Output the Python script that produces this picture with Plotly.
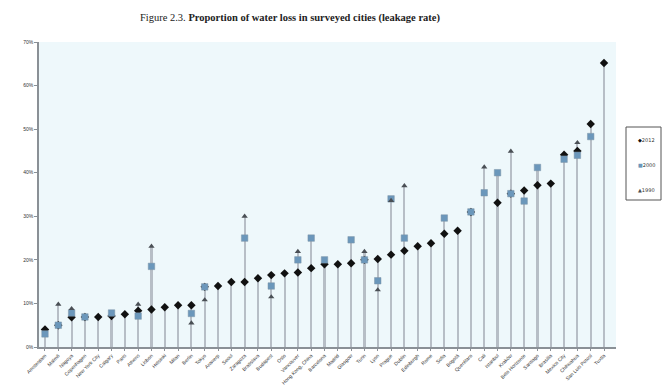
import plotly.graph_objects as go

cities = ["Amsterdam", "Malmö", "Nagoya", "Copenhagen", "New York City", "Calgary", "Paris",
          "Athens", "Lisbon", "Helsinki", "Milan", "Berlin", "Tokyo", "Antwerp", "Seoul",
          "Zaragoza", "Bratislava", "Budapest", "Oslo", "Vancouver", "Hong Kong, China",
          "Barcelona", "Madrid", "Glasgow", "Turin", "Lyon", "Prague", "Dublin", "Edinburgh",
          "Rome", "Sofia", "Bogotá", "Querétaro", "Cali", "Istanbul", "Kraków",
          "Belo Horizonte", "Santiago", "Brasília", "Mexico City", "Chihuahua",
          "San Luis Potosí", "Tuxtla"]

rate_2012 = [4.0, 5.0, 6.8, 6.9, 6.9, 7.1, 7.5, 8.3, 8.6, 9.1, 9.6, 9.6, 13.8, 14.0, 14.9,
             14.9, 15.8, 16.5, 16.9, 17.1, 18.1, 19.0, 19.0, 19.2, 20.0, 20.2, 21.2, 22.1,
             23.1, 23.8, 26.0, 26.7, 31.0, None, 33.1, 35.2, 35.9, 37.1, 37.5, 44.1, 45.0,
             51.2, 65.2]

rate_2000 = [3.0, 5.0, 7.8, 6.9, None, 7.8, None, 7.1, 18.5, None, None, 7.7, 13.8, None,
             None, 25.0, None, 14.0, None, 20.0, 25.0, 20.0, None, 24.6, 20.0, 15.2, 34.0,
             25.0, None, None, 29.6, None, 31.0, 35.4, 40.0, 35.2, 33.5, 41.2, None, 43.1,
             44.0, 48.3, None]

rate_1990 = [None, 9.8, 8.8, None, None, None, None, 9.8, 23.1, None, None, 5.5, 10.8, None,
             None, 30.0, None, 11.5, None, 21.9, None, None, None, None, 21.9, 13.1, 33.6,
             37.0, None, None, None, None, None, 41.3, None, 44.9, None, None, None, None,
             46.9, None, None]

series_names = ["2012", "2000", "1990"]
series_colors = ["#111111", "#6b97bb", "#4a4f55"]
series_symbols = ["diamond", "square", "triangle-up"]
legend_glyphs = ["◆", "■", "▲"]

y_ticks = [0, 10, 20, 30, 40, 50, 60, 70]
y_tick_text = ["0%", "10%", "20%", "30%", "40%", "50%", "60%", "70%"]

stem_top = [max(v for v in vals if v is not None)
            for vals in zip(rate_2012, rate_2000, rate_1990)]

fig = go.Figure()

fig.add_trace(go.Bar(x=cities, y=stem_top, width=0.16, marker_color="#b7bec6",
                     marker_line_width=0, showlegend=False, hoverinfo="skip"))

sizes = [6.5, 6.5, 5.5]
for name, vals, col, sym, sz in zip(series_names, [rate_2012, rate_2000, rate_1990],
                                    series_colors, series_symbols, sizes):
    mk = dict(symbol=sym, size=sz, color=col)
    if sym == "square":
        mk["line"] = dict(color="#7f95a6", width=0.5)
    fig.add_trace(go.Scatter(x=cities, y=vals, mode="markers", name=name,
                             marker=mk, showlegend=False))

# custom legend box (pixel -> paper: x=(px-39)/577, y=(347-py)/305)
fig.add_shape(type="rect", xref="paper", yref="paper",
              x0=(626 - 39) / 577, x1=(661 - 39) / 577,
              y0=(347 - 200) / 305, y1=(347 - 127) / 305,
              line=dict(color="#555555", width=1), fillcolor="white")
for i, (name, col, g) in enumerate(zip(series_names, series_colors, legend_glyphs)):
    py = 140 + i * 25
    fig.add_annotation(xref="paper", yref="paper", x=(636 - 39) / 577,
                       y=(347 - py) / 305, xanchor="left", yanchor="middle",
                       showarrow=False,
                       text=f"<span style='color:{col}'>{g}</span>{name}",
                       font=dict(size=5, family="DejaVu Sans", color="#333333"))

fig.update_layout(
    width=662, height=388,
    margin=dict(l=39, r=46, t=42, b=41, autoexpand=False),
    paper_bgcolor="white",
    plot_bgcolor="#eef8fb",
    title=dict(text="Figure 2.3. <b>Proportion of water loss in surveyed cities (leakage rate)</b>",
               x=0.438, xanchor="center", y=0.955, yanchor="middle",
               font=dict(family="Liberation Serif", size=10.5, color="#222222")),
    font=dict(family="Liberation Sans", color="#333333"),
    showlegend=False,
    bargap=0,
)

fig.update_xaxes(type="category", range=[-0.45, 42.9], tickangle=-45,
                 tickfont=dict(size=5, color="#333333"),
                 showgrid=False, showline=True, linecolor="#8a9096", linewidth=1.5,
                 ticks="outside", ticklen=2, tickcolor="#8a9096", zeroline=False)
fig.update_yaxes(range=[0, 70], tickvals=y_ticks, ticktext=y_tick_text,
                 tickfont=dict(size=5, color="#333333"),
                 showgrid=False, showline=True, linecolor="#8a9096", linewidth=1.5,
                 ticks="outside", ticklen=3, tickcolor="#8a9096", zeroline=False)

fig.write_html("out.html")
